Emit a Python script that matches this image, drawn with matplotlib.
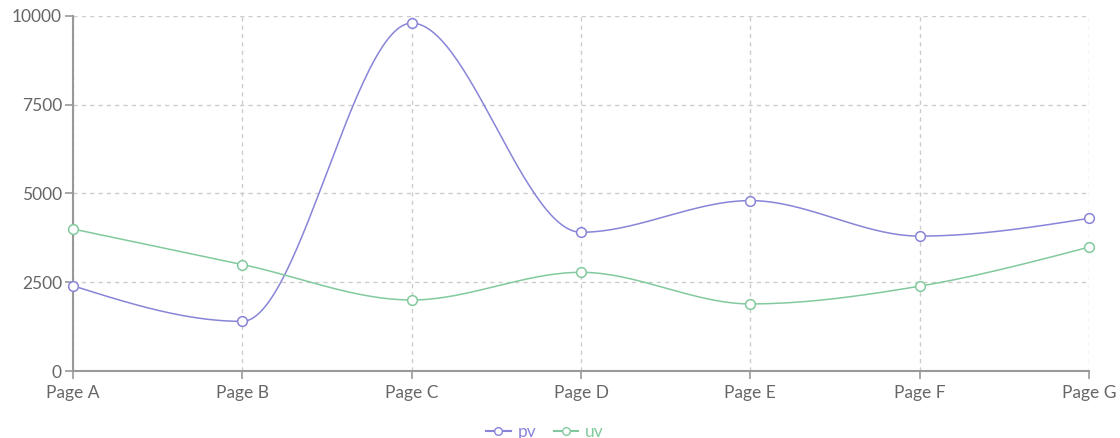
import numpy as np
import matplotlib
matplotlib.use("Agg")
import matplotlib.pyplot as plt
from matplotlib.lines import Line2D

categories = ["Page A", "Page B", "Page C", "Page D", "Page E", "Page F", "Page G"]
pv = [2400, 1398, 9800, 3908, 4800, 3800, 4300]
uv = [4000, 3000, 2000, 2780, 1890, 2390, 3490]
yticks = [0, 2500, 5000, 7500, 10000]

PV_COLOR = "#8884d8"
UV_COLOR = "#82ca9d"


def monotone_x(x, y, n=60):
    x = np.asarray(x, float)
    y = np.asarray(y, float)
    m = len(x)
    h = np.diff(x)
    s = np.diff(y) / h
    t = np.zeros(m)
    for i in range(1, m - 1):
        h0, h1 = h[i - 1], h[i]
        s0, s1 = s[i - 1], s[i]
        p = (s0 * h1 + s1 * h0) / (h0 + h1)
        t[i] = (np.sign(s0) + np.sign(s1)) * min(abs(s0), abs(s1), 0.5 * abs(p))
    t[0] = (3 * s[0] - t[1]) / 2
    t[-1] = (3 * s[-1] - t[-2]) / 2
    xs, ys = [], []
    for i in range(m - 1):
        u = np.linspace(0, 1, n)
        dx = h[i]
        p0, p3 = y[i], y[i + 1]
        p1 = y[i] + dx * t[i] / 3
        p2 = y[i + 1] - dx * t[i + 1] / 3
        by = (1 - u) ** 3 * p0 + 3 * (1 - u) ** 2 * u * p1 + 3 * (1 - u) * u ** 2 * p2 + u ** 3 * p3
        bx = x[i] + u * dx
        xs.append(bx)
        ys.append(by)
    return np.concatenate(xs), np.concatenate(ys)


plt.rcParams["font.family"] = ["Lato", "DejaVu Sans"]

fig = plt.figure(figsize=(11.2, 4.38), dpi=100)
ax = fig.add_axes([73 / 1120, 1 - 371 / 438, (1089 - 73) / 1120, (371 - 16) / 438])

xpos = np.arange(len(categories))
for data, color, name in [(pv, PV_COLOR, "pv"), (uv, UV_COLOR, "uv")]:
    cx, cy = monotone_x(xpos, data)
    ax.plot(cx, cy, color=color, lw=1.1, zorder=3, clip_on=False)
    ax.plot(xpos, data, linestyle="none", marker="o", markersize=7,
            markerfacecolor="white", markeredgecolor=color, markeredgewidth=1.1,
            zorder=4, clip_on=False)

ax.set_xlim(0, len(categories) - 1)
ax.set_ylim(0, 10000)
ax.set_xticks(xpos)
ax.set_xticklabels(categories)
ax.set_yticks(yticks)
ax.set_yticklabels([str(v) for v in yticks])

ax.grid(True, color="#cccccc", linestyle=(0, (3, 3)), linewidth=1, zorder=1)
for side in ["top", "right"]:
    ax.spines[side].set_visible(False)
for side in ["left", "bottom"]:
    ax.spines[side].set_color("#999999")
    ax.spines[side].set_linewidth(1.5)
ax.tick_params(axis="both", colors="#999999", length=6, width=1.2,
               labelcolor="#666666", labelsize=12.5)
ax.tick_params(axis="x", pad=4)
ax.tick_params(axis="y", pad=2)

handles = [
    Line2D([0], [0], color=PV_COLOR, marker="o", markerfacecolor="white",
           markeredgecolor=PV_COLOR, markersize=5.5, lw=1.5),
    Line2D([0], [0], color=UV_COLOR, marker="o", markerfacecolor="white",
           markeredgecolor=UV_COLOR, markersize=5.5, lw=1.5),
]
leg = fig.legend(handles, ["pv", "uv"], loc="center", bbox_to_anchor=(545 / 1120, 6 / 438),
                 ncol=2, frameon=False, fontsize=12.5, handlelength=1.4,
                 handletextpad=0.4, columnspacing=1.0)
for txt, c in zip(leg.get_texts(), [PV_COLOR, UV_COLOR]):
    txt.set_color(c)

fig.savefig("out.png", dpi=100)
